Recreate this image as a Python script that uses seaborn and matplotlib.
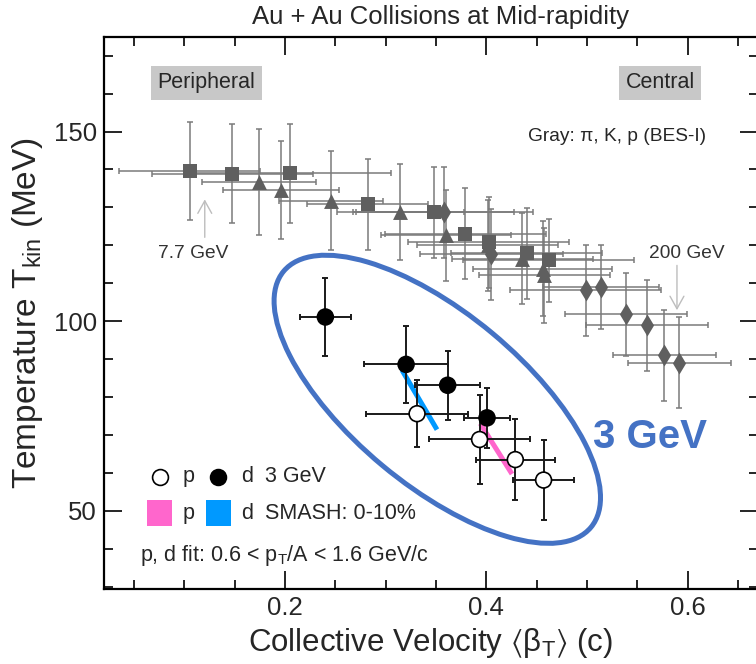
import matplotlib
matplotlib.use("Agg")
import matplotlib.pyplot as plt
import numpy as np
import pandas as pd
import seaborn as sns
from matplotlib.patches import Ellipse, Rectangle
from matplotlib.transforms import ScaledTranslation
from matplotlib.ticker import MultipleLocator

# ---- BES-I blast-wave results (gray), grouped by marker shape ----
sq_beta = [0.1055, 0.1476, 0.2055, 0.2822, 0.3478, 0.3792, 0.4024, 0.4405, 0.4620]
sq_T = [139.7, 138.9, 139.0, 130.8, 128.7, 123.1, 120.8, 117.9, 116.0]
sq_beta_err = [0.070, 0.080, 0.100, 0.060, 0.080, 0.080, 0.080, 0.075, 0.085]
sq_T_err = [12.9, 13.0, 13.0, 12.0, 12.0, 12.0, 12.0, 12.0, 11.0]

tri_beta = [0.1744, 0.1962, 0.2459, 0.3147, 0.3601, 0.4014, 0.4356, 0.4560, 0.4577]
tri_T = [136.6, 134.6, 131.8, 128.7, 122.6, 120.0, 116.5, 113.8, 112.1]
tri_beta_err = [0.057, 0.058, 0.052, 0.063, 0.065, 0.070, 0.070, 0.069, 0.065]
tri_T_err = [14.0, 13.0, 13.0, 12.7, 12.0, 12.0, 12.0, 12.5, 12.5]

dia_beta = [0.3584, 0.4051, 0.4991, 0.5140, 0.5388, 0.5597, 0.5769, 0.5918]
dia_T = [128.7, 117.6, 108.1, 109.0, 101.8, 98.9, 91.0, 89.0]
dia_beta_err = [0.088, 0.071, 0.075, 0.058, 0.061, 0.061, 0.051, 0.051]
dia_T_err = [12.0, 12.0, 12.0, 11.0, 11.0, 12.0, 12.0, 12.0]

# ---- 3 GeV Au+Au: protons (open) and deuterons (filled) ----
p_beta = [0.3313, 0.3934, 0.4289, 0.4570]
p_T = [75.6, 68.8, 63.5, 58.1]
p_beta_err = [0.051, 0.050, 0.039, 0.030]
p_T_err = [8.9, 11.7, 10.6, 10.5]

d_beta = [0.2402, 0.3204, 0.3617, 0.4008]
d_T = [101.1, 88.6, 83.1, 74.5]
d_beta_err = [0.025, 0.042, 0.032, 0.023]
d_T_err = [10.2, 10.2, 9.1, 7.9]

# ---- SMASH 0-10% bands ----
smash_p_beta = [0.3941, 0.4256]
smash_p_T = [73.0, 59.7]
smash_d_beta = [0.3164, 0.3511]
smash_d_T = [87.05, 71.4]

GRAY_MK = "#5f5f5f"
GRAY_EB = "#7a7a7a"
BLUE = "#4472c4"
PINK = "#ff66cc"
CYAN = "#0099ff"

sns.set_theme(style="ticks")
plt.rcParams["font.family"] = ["Liberation Sans", "DejaVu Sans"]
plt.rcParams["mathtext.fontset"] = "custom"
plt.rcParams["mathtext.rm"] = "Liberation Sans"
plt.rcParams["mathtext.it"] = "Liberation Sans:italic"
plt.rcParams["mathtext.default"] = "regular"

W, H = 756, 664
fig = plt.figure(figsize=(W / 100, H / 100), dpi=100)
ax_l, ax_r, ax_t, ax_b = 103.7, 758.0, 36.7, 589.3
ax = fig.add_axes([ax_l / W, (H - ax_b) / H, (ax_r - ax_l) / W, (ax_b - ax_t) / H])

bes = pd.concat([
    pd.DataFrame({"beta": sq_beta, "T": sq_T, "be": sq_beta_err, "te": sq_T_err, "set": "sq"}),
    pd.DataFrame({"beta": tri_beta, "T": tri_T, "be": tri_beta_err, "te": tri_T_err, "set": "tri"}),
    pd.DataFrame({"beta": dia_beta, "T": dia_T, "be": dia_beta_err, "te": dia_T_err, "set": "dia"}),
], ignore_index=True)

ax.errorbar(bes["beta"], bes["T"], xerr=bes["be"], yerr=bes["te"], fmt="none",
            ecolor=GRAY_EB, elinewidth=1.1, capsize=2.2, capthick=1.1, zorder=2)

for key, mk, sz in [("sq", "s", 92), ("tri", "^", 115), ("dia", "d", 125)]:
    sub = bes[bes["set"] == key]
    sns.scatterplot(data=sub, x="beta", y="T", marker=mk, s=sz, color=GRAY_MK,
                    linewidth=0, ax=ax, zorder=3, legend=False)

# SMASH bands
ax.plot(smash_d_beta, smash_d_T, color=CYAN, lw=3.6, solid_capstyle="butt", zorder=4)
ax.plot(smash_p_beta, smash_p_T, color=PINK, lw=3.6, solid_capstyle="butt", zorder=4)

three = pd.concat([
    pd.DataFrame({"beta": p_beta, "T": p_T, "be": p_beta_err, "te": p_T_err, "sp": "p"}),
    pd.DataFrame({"beta": d_beta, "T": d_T, "be": d_beta_err, "te": d_T_err, "sp": "d"}),
], ignore_index=True)
ax.errorbar(three["beta"], three["T"], xerr=three["be"], yerr=three["te"], fmt="none",
            ecolor="#1a1a1a", elinewidth=1.4, capsize=2.5, capthick=1.4, zorder=5)
sns.scatterplot(data=three, x="beta", y="T", hue="sp", palette={"p": "white", "d": "black"},
                s=130, edgecolor="black", linewidth=1.2, ax=ax, zorder=6, legend=False)

# ellipse around the 3 GeV points (size given in inches on screen)
ell_trans = fig.dpi_scale_trans + ScaledTranslation(0.3514, 79.4, ax.transData)
ax.add_patch(Ellipse((0, 0), width=4.0, height=1.72, angle=-39.8, transform=ell_trans,
                     fill=False, ec=BLUE, lw=3.6, zorder=1))

ax.set_xlim(0.02, 0.67)
ax.set_ylim(29.3, 175)
ax.xaxis.set_major_locator(MultipleLocator(0.2))
ax.xaxis.set_minor_locator(MultipleLocator(0.05))
ax.yaxis.set_major_locator(MultipleLocator(50))
ax.yaxis.set_minor_locator(MultipleLocator(10))
ax.tick_params(which="both", direction="in", top=True, right=True, width=1.2, color="black")
ax.tick_params(which="major", length=13, labelsize=18.5, pad=5)
ax.tick_params(which="minor", length=6.8)
for s in ax.spines.values():
    s.set_linewidth(1.6)
    s.set_color("black")

ax.set_xlabel(r"Collective Velocity $\langle\beta_{T}\rangle$ (c)", fontsize=22.5, labelpad=4)
ax.set_ylabel(r"Temperature T$_{kin}$ (MeV)", fontsize=24, labelpad=6)

fig.text(441 / W, 1 - 17 / H, "Au + Au Collisions at Mid-rapidity", ha="center", va="center",
         fontsize=18.5)

box = dict(boxstyle="square,pad=0.3", fc="#c8c8c8", ec="none")
ax.text(0.122, 162.9, "Peripheral", ha="center", va="center", fontsize=15.5, bbox=box)
ax.text(0.5729, 162.9, "Central", ha="center", va="center", fontsize=15.5, bbox=box)
ax.text(0.6186, 148.8, "Gray: π, K, p (BES-I)", ha="right", va="center", fontsize=13.8)

arrow = dict(arrowstyle="->,head_length=0.45,head_width=0.25", color="#bdbdbd", lw=1.0,
             mutation_scale=20, shrinkA=0, shrinkB=0)
ax.annotate("", xy=(0.1204, 132.1), xytext=(0.1204, 122.1), arrowprops=arrow)
ax.text(0.1091, 117.9, "7.7 GeV", ha="center", va="center", fontsize=13.8, color="#333333")
ax.annotate("", xy=(0.5895, 102.9), xytext=(0.5895, 114.7), arrowprops=arrow)
ax.text(0.5997, 117.9, "200 GeV", ha="center", va="center", fontsize=13.8, color="#333333")

ax.text(0.5064, 69.5, "3 GeV", ha="left", va="center", fontsize=29, fontweight="bold", color=BLUE)

# key
ta = ax.transAxes
ax.scatter([0.086], [0.2038], s=130, facecolor="white", edgecolor="black", linewidth=1.2,
           transform=ta, clip_on=False, zorder=7)
ax.scatter([0.1751], [0.2038], s=130, facecolor="black", edgecolor="black", linewidth=1.2,
           transform=ta, clip_on=False, zorder=7)
for xx, txt in [(0.1207, "p"), (0.2098, "d"), (0.2465, "3 GeV")]:
    ax.text(xx, 0.2038, txt, transform=ta, ha="left", va="center", fontsize=15.5)
rw, rh = 25 / (ax_r - ax_l), 26 / (ax_b - ax_t)
for xc, col in [(0.0848, PINK), (0.1755, CYAN)]:
    ax.add_patch(Rectangle((xc - rw / 2, 0.138 - rh / 2), rw, rh, transform=ta,
                           fc=col, ec="none", zorder=7))
for xx, txt in [(0.1207, "p"), (0.2098, "d"), (0.2465, "SMASH: 0-10%")]:
    ax.text(xx, 0.138, txt, transform=ta, ha="left", va="center", fontsize=15.5)
ax.text(0.0555, 0.062, r"p, d fit: 0.6 < p$_{T}$/A < 1.6 GeV/c", transform=ta,
        ha="left", va="center", fontsize=15.5)

fig.savefig("out.png", dpi=100)
